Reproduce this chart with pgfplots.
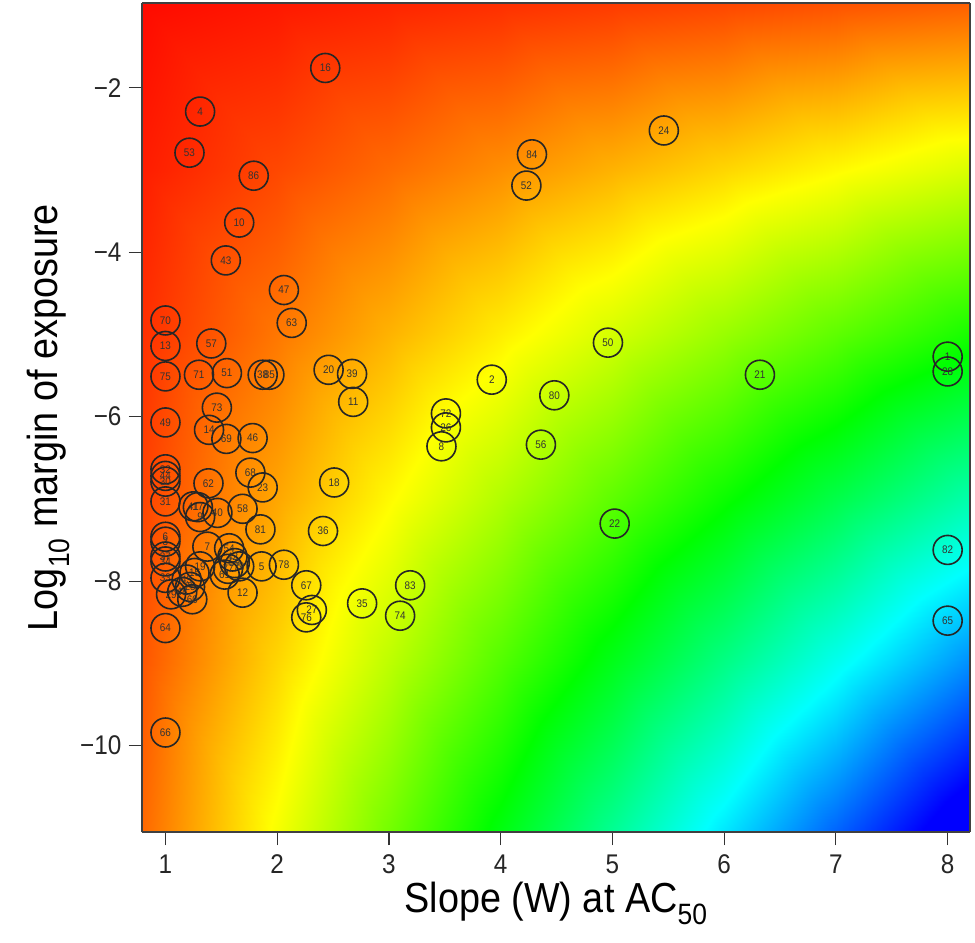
\documentclass[border=0pt]{standalone}
\usepackage{fontspec}
\setmainfont{Liberation Sans}[FakeStretch=0.9]
\usepackage{pgfplots}
\pgfplotsset{compat=1.18}
\usepackage{pgfplotstable}

\pgfplotstableread{
x y lab
2.43 -1.76 16
1.31 -2.29 4
1.215 -2.79 53
1.79 -3.07 86
1.66 -3.64 10
1.54 -4.10 43
2.06 -4.46 47
2.13 -4.86 63
1.00 -4.83 70
1.00 -5.14 13
1.41 -5.11 57
1.00 -5.51 75
1.30 -5.49 71
1.55 -5.47 51
1.87 -5.49 38
1.93 -5.49 85
2.46 -5.43 20
2.67 -5.48 39
2.68 -5.82 11
1.46 -5.89 73
1.00 -6.07 49
1.39 -6.16 14
1.545 -6.27 69
1.78 -6.26 46
1.76 -6.68 68
1.87 -6.86 23
1.385 -6.81 62
1.00 -6.64 32
1.00 -6.72 44
1.00 -6.79 30
1.00 -7.03 31
1.25 -7.09 41
1.29 -7.10 17
1.31 -7.22 9
1.465 -7.17 40
1.69 -7.12 58
1.85 -7.37 81
2.41 -7.39 36
2.51 -6.80 18
1.375 -7.58 7
1.00 -7.46 6
1.00 -7.52 3
1.00 -7.70 37
1.00 -7.76 34
1.00 -7.96 33
1.05 -8.16 29
1.00 -8.57 64
1.00 -9.84 66
1.31 -7.82 19
1.26 -7.90 15
1.19 -7.98 45
1.22 -8.07 25
1.15 -8.13 48
1.24 -8.22 60
1.57 -7.60 54
1.60 -7.70 42
1.62 -7.78 59
1.56 -7.85 77
1.66 -7.82 79
1.53 -7.92 61
1.86 -7.82 5
2.06 -7.80 78
1.69 -8.14 12
2.26 -8.05 67
2.31 -8.35 27
2.26 -8.44 76
2.76 -8.27 35
3.10 -8.42 74
3.19 -8.05 83
3.92 -5.55 2
3.51 -5.96 72
3.51 -6.13 26
3.47 -6.36 8
4.48 -5.74 80
4.36 -6.34 56
4.96 -5.10 50
4.23 -3.19 52
4.28 -2.81 84
5.46 -2.52 24
5.02 -7.30 22
6.32 -5.49 21
8.00 -5.27 1
8.00 -5.45 28
8.00 -7.62 82
8.00 -8.48 65
}\pts

\pgfplotsset{
  colormap={moe}{rgb255(0cm)=(255,0,0); rgb255(21.43cm)=(255,255,0); rgb255(42.86cm)=(0,255,0); rgb255(64.29cm)=(0,255,255); rgb255(85.71cm)=(0,0,255); rgb255(91cm)=(0,0,255)}
}

\begin{document}
\begin{tikzpicture}
\begin{axis}[
  name=ax,
  view={0}{90},
  scale only axis,
  width=828pt, height=829pt,
  xmin=0.79, xmax=8.2,
  ymin=-11.05, ymax=-0.97,
  xtick={1,2,3,4,5,6,7,8},
  xticklabels={1,2,3,4,5,6,7,8},
  ytick={-10,-8,-6,-4,-2},
  yticklabels={−10,−8,−6,−4,−2},
  tick align=outside,
  xtick pos=left, ytick pos=left,
  major tick length=13pt,
  tick style={black!80, line width=1.1pt},
  axis line style={black!75, line width=1.2pt},
  axis on top,
  colormap name=moe,
  point meta min=0, point meta max=91,
  ticklabel style={font=\fontsize{27}{27}\selectfont, text=black!85},
  xticklabel style={yshift=-6pt},
  yticklabel style={xshift=-4pt},
  xlabel={Slope (W) at AC\textsubscript{50}},
  ylabel={Log\textsubscript{10} margin of exposure},
  label style={font=\fontsize{42}{42}\selectfont},
  xlabel style={yshift=-2pt},
  ylabel style={yshift=4pt},
  clip=true,
]
\addplot3[surf, shader=interp, mesh/cols=8, point meta=explicit] table[x=x, y=y, z=z, meta=p] {
x y z p
0.79 -11.05 0 8.73
2 -11.05 0 22.10
3 -11.05 0 33.15
4 -11.05 0 44.20
5 -11.05 0 55.25
6 -11.05 0 66.30
7 -11.05 0 77.35
8.2 -11.05 0 90.61

0.79 -9 0 7.11
2 -9 0 18
3 -9 0 27
4 -9 0 36
5 -9 0 45
6 -9 0 54
7 -9 0 63
8.2 -9 0 73.8

0.79 -7 0 5.53
2 -7 0 14
3 -7 0 21
4 -7 0 28
5 -7 0 35
6 -7 0 42
7 -7 0 49
8.2 -7 0 57.4

0.79 -5 0 3.95
2 -5 0 10
3 -5 0 15
4 -5 0 20
5 -5 0 25
6 -5 0 30
7 -5 0 35
8.2 -5 0 41

0.79 -3 0 2.37
2 -3 0 6
3 -3 0 9
4 -3 0 12
5 -3 0 15
6 -3 0 18
7 -3 0 21
8.2 -3 0 24.6

0.79 -0.97 0 0.77
2 -0.97 0 1.94
3 -0.97 0 2.91
4 -0.97 0 3.88
5 -0.97 0 4.85
6 -0.97 0 5.82
7 -0.97 0 6.79
8.2 -0.97 0 7.95
};
\addplot[only marks, mark=o, mark size=14.5pt,
  mark options={draw=black!85, line width=1.6pt},
  nodes near coords, point meta=explicit symbolic,
  nodes near coords style={anchor=center, font=\fontsize{11}{11}\selectfont, text=black!80}]
  table[x=x, y=y, meta=lab] {\pts};
\end{axis}
\pgfresetboundingbox
\path[use as bounding box] ([xshift=-142pt,yshift=-110pt]ax.south west) rectangle ([xshift=5pt,yshift=3pt]ax.north east);
\end{tikzpicture}
\end{document}
